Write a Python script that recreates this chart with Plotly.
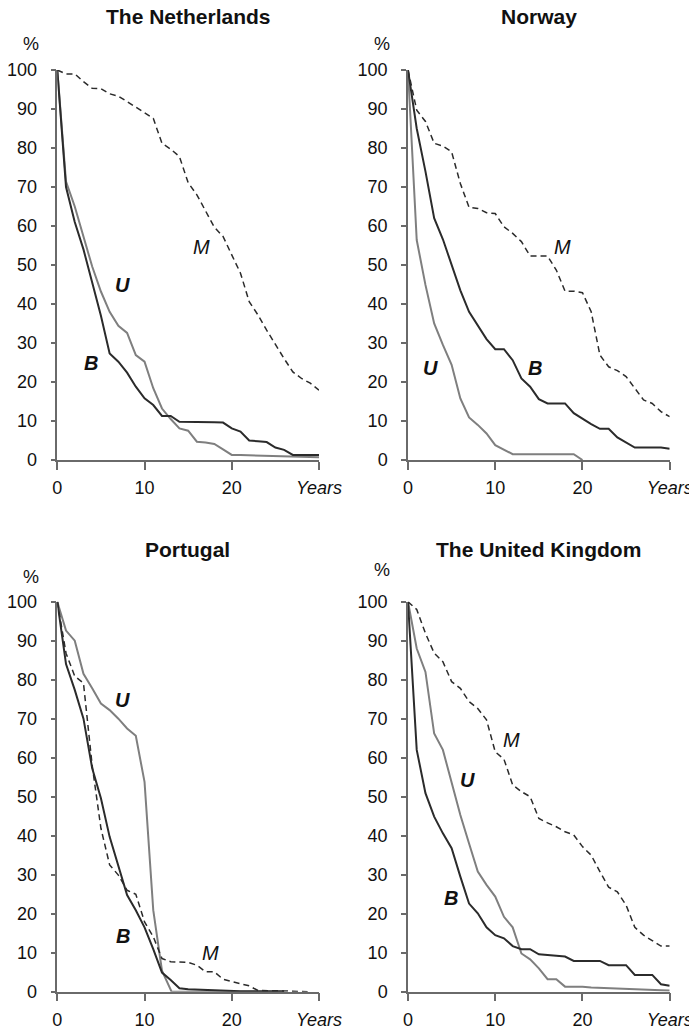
import plotly.graph_objects as go

years = list(range(0, 31))

# ---- The Netherlands ----
nl_M = [100, 99, 99, 97, 95.3, 95.2, 93.9, 93.3, 91.9, 90.4, 89, 87.6, 81.2, 79.7, 77.8,
        71.1, 68, 63.7, 59.7, 57.3, 52.6, 47.9, 40.6, 37.2, 33.3, 29.5, 26, 22.6, 20.9, 19.7, 17.9]
nl_B = [100, 70, 61, 54, 45.5, 37, 27.3, 25.2, 22.4, 18.8, 15.8, 14.1, 11.3, 11.3, 9.8,
        9.8, 9.8, 9.7, 9.7, 9.6, 8.1, 7.3, 5, 4.8, 4.6, 3.2, 2.6, 1.3, 1.3, 1.3, 1.3]
nl_U = [100, 71.4, 65, 57.5, 49.6, 43.2, 38, 34.4, 32.6, 26.9, 25.2, 18.4, 13.2, 10.5, 8.1,
        7.5, 4.7, 4.5, 4.1, 2.7, 1.3, 1.25, 1.2, 1.1, 1.05, 1.0, 0.9, 0.85, 0.8, 0.75, 0.7]

# ---- Norway ----
no_M = [100, 89.7, 86.8, 81.2, 80.5, 79, 70.9, 64.8, 64.5, 63.4, 63.2, 59.8, 58.1, 56, 52.3,
        52.3, 52.3, 48.7, 43.3, 43.3, 42.9, 38, 26.9, 23.9, 22.9, 21.4, 18.4, 15.4, 14.5, 12.4, 11.1]
no_B = [100, 85, 74, 62, 56.6, 50, 43.5, 38, 34.6, 31, 28.4, 28.4, 25.6, 20.9, 18.8,
        15.6, 14.5, 14.5, 14.5, 12, 10.5, 9.2, 8, 8, 5.8, 4.5, 3.2, 3.2, 3.2, 3.2, 2.9]
no_U = [100, 56.4, 44.9, 35, 29.5, 24.4, 15.8, 10.9, 9, 6.8, 3.8, 2.6, 1.5, 1.5, 1.5,
        1.5, 1.5, 1.5, 1.5, 1.5, 0]
no_U_years = years[:21]

# ---- Portugal ----
pt_U = [100, 92.6, 90, 81.5, 77.8, 73.9, 72.2, 70, 67.5, 65.6, 53.8, 20.9, 5.4, 0,
        0, 0, 0, 0, 0, 0, 0, 0, 0, 0, 0, 0, 0]
pt_U_years = [0, 1, 2, 3, 4, 5, 6, 7, 8, 9, 10, 11, 12, 13.1,
              14, 15, 16, 17, 18, 19, 20, 21, 22, 23, 24, 25, 26]
pt_B = [100, 84, 77.4, 70, 57.3, 49.6, 39.7, 32.5, 24.8, 20.9, 16.5, 10.9, 4.9, 3, 0.9,
        0.6, 0.5, 0.4, 0.3, 0.2, 0.1, 0.1, 0.1, 0.1, 0.1, 0.1, 0.1]
pt_B_years = years[:27]
pt_M = [100, 86.8, 80.9, 79.1, 58, 41.9, 32.5, 29.9, 26, 25, 17.9, 14.1, 8.5, 7.7, 7.6,
        7.5, 6.8, 5.1, 5.1, 3.2, 2.6, 2.1, 1.5, 0.3, 0.3, 0.3, 0.2, 0.1, 0.1, 0]
pt_M_years = years[:29] + [28.7]

# ---- The United Kingdom ----
uk_M = [100, 98, 91.9, 86.8, 84.6, 79.5, 77.8, 74.4, 72.6, 69.7, 61.5, 59.6, 53, 51.3, 50,
        44.4, 43.3, 42.3, 41, 40.2, 37.2, 35, 30.8, 26.8, 25.6, 22.2, 16.5, 14.5, 13.1, 11.7, 11.7]
uk_U = [100, 88, 82, 66.2, 62, 53.4, 45.3, 38, 30.8, 27.4, 24.4, 19.2, 16.5, 9.8, 8.3,
        6, 3.2, 3.2, 1.3, 1.3, 1.3, 1.1, 1.0, 0.8, 0.7, 0.6, 0.5, 0.45, 0.4, 0.35, 0.3]
uk_B = [100, 62, 50.9, 44.9, 40.6, 36.8, 29.5, 22.6, 20.1, 16.5, 14.5, 13.7, 11.7, 10.9, 10.9,
        9.6, 9.4, 9.2, 9, 7.9, 7.9, 7.9, 7.9, 6.8, 6.8, 6.8, 4.3, 4.3, 4.3, 1.9, 1.5]

panel_titles = ["The Netherlands", "Norway", "Portugal", "The United Kingdom"]
x_tickvals = [0, 10, 20, 30]
x_ticktext = ["0", "10", "20", "<i>Years</i>"]
y_tickvals = [0, 10, 20, 30, 40, 50, 60, 70, 80, 90, 100]

# label positions (series letter, x, y) per panel
labels = [
    [("M", 16.5, 54.7), ("U", 7.5, 44.9), ("B", 3.9, 24.8)],
    [("M", 17.7, 54.7), ("B", 14.6, 23.5), ("U", 2.6, 23.5)],
    [("U", 7.5, 74.8), ("B", 7.5, 14.3), ("M", 17.6, 10.0)],
    [("M", 11.9, 64.5), ("U", 6.8, 54.3), ("B", 4.9, 23.9)],
]

panels = [
    dict(M=(years, nl_M), B=(years, nl_B), U=(years, nl_U)),
    dict(M=(years, no_M), B=(years, no_B), U=(no_U_years, no_U)),
    dict(M=(pt_M_years, pt_M), B=(pt_B_years, pt_B), U=(pt_U_years, pt_U)),
    dict(M=(years, uk_M), B=(years, uk_B), U=(years, uk_U)),
]

# the page keeps an 8px body margin: the figure starts at (8, 8) and runs to the window edge
PAGE_W, PAGE_H = 697, 1029
OFF = 8
W, H = PAGE_W - OFF, PAGE_H - OFF


def fx(px):
    return (px - OFF) / W


def fy(py):
    return 1 - (py - OFF) / H


xdom = [[fx(57.3), fx(319)], [fx(408), fx(669.7)], [fx(57.3), fx(319)], [fx(408), fx(669.7)]]
ydom = [[fy(460), fy(70)], [fy(460), fy(70)], [fy(991.7), fy(601.7)], [fy(991.7), fy(601.7)]]
title_pos = [(188, 17), (538.7, 17), (187.5, 549), (538.7, 549)]
pct_pos = [(31, 44), (382, 44), (31, 577), (382, 570)]

dark = "#2b2b2b"
gray = "#7f7f7f"
axis_col = "#6a6a6a"
FONT = "Liberation Sans, Arial, Helvetica, sans-serif"

fig = go.Figure()
annotations = []
layout = dict(
    width=W, height=H, paper_bgcolor="white", plot_bgcolor="white",
    margin=dict(l=0, r=0, t=0, b=0), showlegend=False,
    font=dict(family=FONT, size=18, color="#111"),
)

for i, p in enumerate(panels):
    n = "" if i == 0 else str(i + 1)
    xa, ya = "x" + n, "y" + n
    for key in ["U", "B", "M"]:
        xs, ys = p[key]
        if key == "M":
            line = dict(color=dark, width=1.5, dash="6px,4px")
        elif key == "B":
            line = dict(color=dark, width=2)
        else:
            line = dict(color=gray, width=2)
        fig.add_trace(go.Scatter(x=xs, y=ys, mode="lines", line=line,
                                 xaxis=xa, yaxis=ya, hoverinfo="skip"))
    layout["xaxis" + n] = dict(
        domain=xdom[i], range=[0, 30], anchor=ya, tickmode="array",
        tickvals=x_tickvals, ticktext=x_ticktext, ticks="outside", ticklen=8,
        tickwidth=1.5, tickcolor=axis_col, showline=True, linecolor=axis_col,
        linewidth=1.5, showgrid=False, zeroline=False, automargin=False,
        tickfont=dict(size=18, color="#111"), ticklabelstandoff=3, fixedrange=True,
    )
    layout["yaxis" + n] = dict(
        domain=ydom[i], range=[0, 100], anchor=xa, tickmode="array",
        tickvals=y_tickvals, ticks="outside", ticklen=5, tickwidth=1.5,
        tickcolor=axis_col, showline=True, linecolor=axis_col, linewidth=1.5,
        showgrid=False, zeroline=False, automargin=False,
        tickfont=dict(size=18, color="#111"), ticklabelstandoff=10, fixedrange=True,
    )
    tx, ty = title_pos[i]
    annotations.append(dict(text="<b>" + panel_titles[i] + "</b>", x=fx(tx), y=fy(ty),
                            xref="paper", yref="paper", showarrow=False,
                            xanchor="center", yanchor="middle",
                            font=dict(size=21, color="#111", family=FONT)))
    px_, py_ = pct_pos[i]
    annotations.append(dict(text="%", x=fx(px_), y=fy(py_), xref="paper", yref="paper",
                            showarrow=False, xanchor="center", yanchor="middle",
                            font=dict(size=18, color="#111", family=FONT)))
    for (letter, lx, ly) in labels[i]:
        txt = "<i>M</i>" if letter == "M" else "<b><i>" + letter + "</i></b>"
        annotations.append(dict(text=txt, x=lx, y=ly, xref=xa, yref=ya, showarrow=False,
                                xanchor="center", yanchor="middle",
                                font=dict(size=20, color="#111", family=FONT)))

layout["annotations"] = annotations
fig.update_layout(**layout)
fig.write_html("out.html")
